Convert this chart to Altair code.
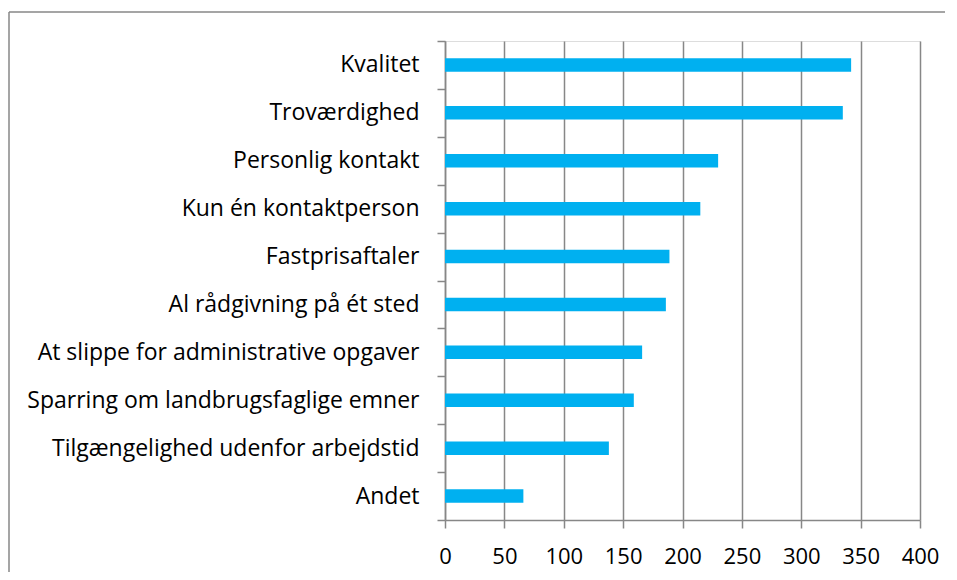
import altair as alt
import pandas as pd

categories = [
    "Kvalitet",
    "Troværdighed",
    "Personlig kontakt",
    "Kun én kontaktperson",
    "Fastprisaftaler",
    "Al rådgivning på ét sted",
    "At slippe for administrative opgaver",
    "Sparring om landbrugsfaglige emner",
    "Tilgængelighed udenfor arbejdstid",
    "Andet",
]
values = [342, 335, 230, 215, 189, 186, 166, 159, 138, 66]
x_ticks = [0, 50, 100, 150, 200, 250, 300, 350, 400]

df = pd.DataFrame({"kategori": categories, "antal": values})

FONT = "Open Sans"
GRID = "#878787"

bars = alt.Chart(df).mark_bar(size=13.5, color="#00B0F0").encode(
    y=alt.Y(
        "kategori:N",
        sort=categories,
        title=None,
        scale=alt.Scale(paddingInner=0, paddingOuter=0),
        axis=alt.Axis(
            tickBand="extent",
            tickSize=8,
            tickColor=GRID,
            tickWidth=1.5,
            domainColor=GRID,
            domainWidth=1.5,
            labelFont=FONT,
            labelFontSize=23,
            labelColor="#000000",
            labelPadding=18,
            labelLimit=500,
            grid=False,
        ),
    ),
    x=alt.X(
        "antal:Q",
        title=None,
        scale=alt.Scale(domain=[0, 400], nice=False),
        axis=alt.Axis(
            values=x_ticks,
            tickSize=8,
            tickColor=GRID,
            tickWidth=1.5,
            domainColor=GRID,
            domainWidth=1.5,
            grid=True,
            gridColor=GRID,
            gridWidth=1.5,
            labelFont=FONT,
            labelFontSize=22,
            labelColor="#000000",
            labelPadding=18,
            labelFlush=False,
        ),
    ),
)

frame_src = alt.Data(values=[{"f": 1}])
frame_top = alt.Chart(frame_src).mark_rule(color=GRID, strokeWidth=1.5, clip=False).encode(
    x=alt.value(-436), x2=alt.value(600), y=alt.value(-29)
)
frame_left = alt.Chart(frame_src).mark_rule(color=GRID, strokeWidth=1.5, clip=False).encode(
    x=alt.value(-436), y=alt.value(-29), y2=alt.value(600)
)

chart = (
    alt.layer(frame_top, frame_left, bars)
    .properties(
        width=475,
        height=479,
        autosize=alt.AutoSizeParams(type="none"),
        padding={"left": 437, "top": 33, "right": 25, "bottom": 52},
    )
    .configure_view(stroke=None)
    .configure(background="white")
)

chart.save("out.html", embed_options={"renderer": "svg", "actions": False})
